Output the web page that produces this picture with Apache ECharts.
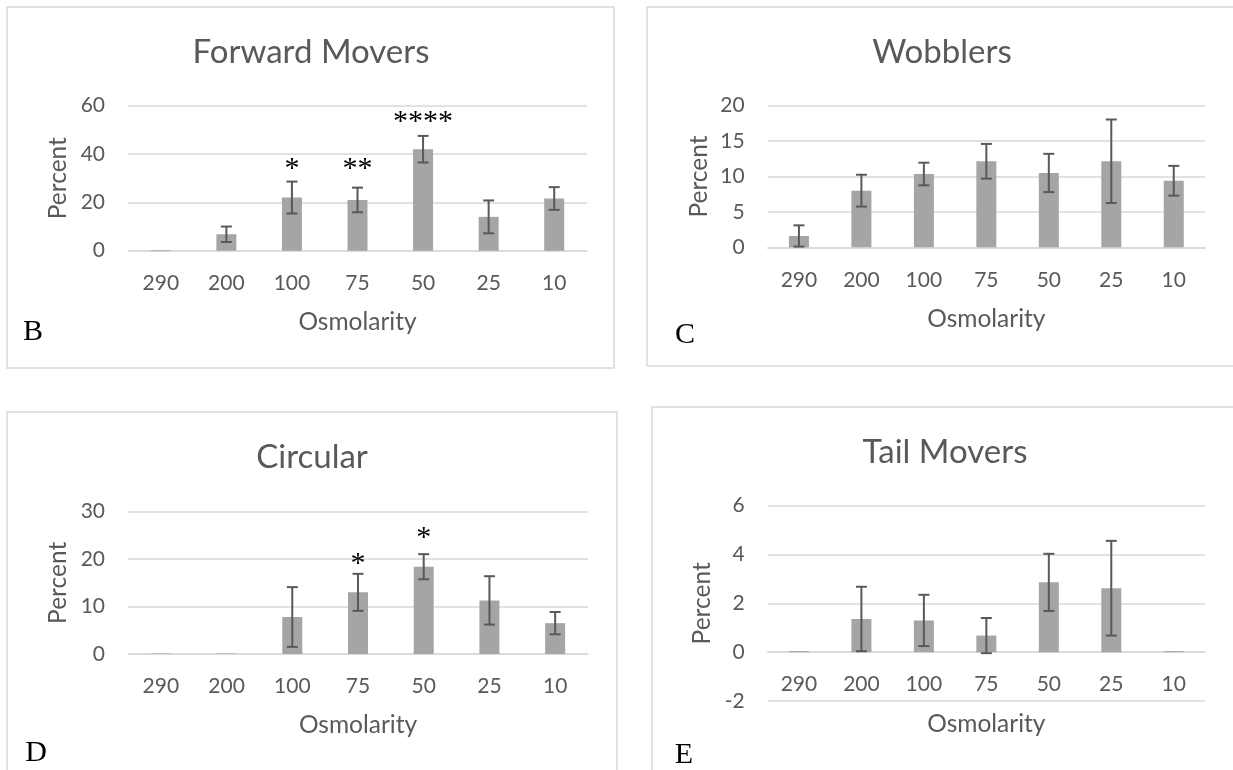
<!DOCTYPE html>
<html><head><meta charset="utf-8">
<script src="https://cdn.jsdelivr.net/npm/echarts@6/dist/echarts.min.js"></script>
<style>html,body{margin:0;padding:0;background:#fff}#c{width:1233px;height:770px}</style>
</head><body><div id="c"></div>
<script>
// ---------- data ----------
const categories = ['290', '200', '100', '75', '50', '25', '10'];

const forwardMean = [0.3, 6.8, 22.0, 21.0, 42.0, 14.0, 21.6];
const forwardErr  = [0, 3.2, 6.6, 5.1, 5.5, 6.8, 4.7];
const forwardSig  = ['', '', '*', '**', '****', '', ''];
const forwardSigAt = [null, null, 35.5, 35.5, 55, null, null];

const wobblerMean = [1.6, 8.0, 10.35, 12.15, 10.5, 12.15, 9.4];
const wobblerErr  = [1.5, 2.25, 1.6, 2.45, 2.7, 5.9, 2.1];

const circularMean = [0.1, 0.1, 7.8, 13.0, 18.4, 11.3, 6.5];
const circularErr  = [0, 0, 6.3, 3.9, 2.65, 5.1, 2.35];
const circularSig  = ['', '', '', '*', '*', '', ''];
const circularSigAt = [null, null, null, 19.8, 25.3, null, null];

const tailMean = [0.04, 1.36, 1.3, 0.68, 2.86, 2.62, 0.04];
const tailErr  = [0, 1.32, 1.05, 0.72, 1.17, 1.94, 0];

const forwardTicks  = [0, 20, 40, 60];
const wobblerTicks  = [0, 5, 10, 15, 20];
const circularTicks = [0, 10, 20, 30];
const tailTicks     = [-2, 0, 2, 4, 6];

const titles = ['Forward Movers', 'Wobblers', 'Circular', 'Tail Movers'];
const letters = ['B', 'C', 'D', 'E'];
const xName = 'Osmolarity';
const yName = 'Percent';

// ---------- layout (styles) ----------
const GRID = '#d9d9d9', TXT = '#595959', BAR = '#a5a5a5', ERR = '#595959';
const FONT = 'Lato, "Open Sans", sans-serif';
const SERIF = '"Liberation Serif", "DejaVu Serif", serif';

const panels = [
  {mean: forwardMean, err: forwardErr, sig: forwardSig, sigAt: forwardSigAt, ticks: forwardTicks,
   grid: {left: 128, top: 105.7, width: 459, height: 145}, yGap: 57,
   title: [311, 52], letter: [33, 332], box: [7, 7, 607, 361]},
  {mean: wobblerMean, err: wobblerErr, sig: null, sigAt: null, ticks: wobblerTicks,
   grid: {left: 767.7, top: 105.7, width: 437.3, height: 141.6}, yGap: 56,
   title: [942, 52], letter: [685, 335], box: [647, 7, 700, 359]},
  {mean: circularMean, err: circularErr, sig: circularSig, sigAt: circularSigAt, ticks: circularTicks,
   grid: {left: 128, top: 511.7, width: 460, height: 142.3}, yGap: 57,
   title: [312, 457], letter: [36, 753], box: [7, 412, 610, 400]},
  {mean: tailMean, err: tailErr, sig: null, sigAt: null, ticks: tailTicks,
   grid: {left: 767.7, top: 505.7, width: 437.3, height: 195.3}, yGap: 53,
   title: [945, 452], letter: [684, 755], box: [652, 407, 700, 400]}
];

function errRender(params, api) {
  const x = api.value(0), lo = api.value(1), hi = api.value(2);
  if (hi === lo) return null;
  const a = api.coord([x, hi]), b = api.coord([x, lo]);
  const w = 5.5;
  const st = {stroke: ERR, lineWidth: 2};
  return {type: 'group', children: [
    {type: 'line', shape: {x1: a[0], y1: a[1], x2: b[0], y2: b[1]}, style: st},
    {type: 'line', shape: {x1: a[0] - w, y1: a[1], x2: a[0] + w, y2: a[1]}, style: st},
    {type: 'line', shape: {x1: b[0] - w, y1: b[1], x2: b[0] + w, y2: b[1]}, style: st}
  ]};
}

function makeSigRender(sig) {
  return function (params, api) {
    const i = api.value(0), v = api.value(1);
    const p = api.coord([i, v]);
    return {type: 'text', x: p[0], y: p[1] + 4,
      style: {text: sig[i], fill: '#000', font: '30px ' + SERIF, align: 'center', verticalAlign: 'middle'}};
  };
}

const grid = [], xAxis = [], yAxis = [], series = [], graphic = [];
panels.forEach((p, k) => {
  const t = p.ticks;
  const lo = t[0], hi = t[t.length - 1];
  // place the category axis at value 0 (Excel style) by shifting it up from the grid bottom
  const zeroOffset = lo < 0 ? -(0 - lo) / (hi - lo) * p.grid.height : 0;
  grid.push(Object.assign({containLabel: false, outerBoundsMode: 'none'}, p.grid));
  xAxis.push({type: 'category', gridIndex: k, data: categories, position: 'bottom', offset: zeroOffset,
    axisLine: {onZero: false, lineStyle: {color: GRID, width: 1.5}},
    axisTick: {show: false},
    axisLabel: {color: TXT, fontSize: 21, fontFamily: FONT, margin: 22, interval: 0},
    name: xName, nameLocation: 'middle', nameGap: 59,
    nameTextStyle: {color: TXT, fontSize: 24.5, fontFamily: FONT}});
  yAxis.push({type: 'value', gridIndex: k, min: lo, max: hi, interval: t[1] - t[0],
    axisLine: {show: false}, axisTick: {show: false},
    splitLine: {lineStyle: {color: GRID, width: 1.5}},
    axisLabel: {color: TXT, fontSize: 21, fontFamily: FONT, margin: 23},
    name: yName, nameLocation: 'middle', nameGap: p.yGap,
    nameTextStyle: {color: TXT, fontSize: 24.5, fontFamily: FONT}});
  series.push({type: 'bar', xAxisIndex: k, yAxisIndex: k, data: p.mean, barWidth: 20,
    itemStyle: {color: BAR}, silent: true});
  series.push({type: 'custom', xAxisIndex: k, yAxisIndex: k, renderItem: errRender, silent: true,
    encode: {x: 0, y: [1, 2]},
    data: p.mean.map((m, i) => [i, m - p.err[i], m + p.err[i]]), z: 5});
  if (p.sig) {
    series.push({type: 'custom', xAxisIndex: k, yAxisIndex: k, renderItem: makeSigRender(p.sig), silent: true,
      encode: {x: 0, y: 1},
      data: p.sigAt.map((v, i) => [i, v]).filter(d => d[1] !== null), z: 6});
  }
  graphic.push({type: 'rect', shape: {x: p.box[0], y: p.box[1], width: p.box[2], height: p.box[3]},
    style: {fill: 'none', stroke: GRID, lineWidth: 1.5}, z: 0, silent: true});
  graphic.push({type: 'text', x: p.title[0], y: p.title[1],
    style: {text: titles[k], fill: TXT, font: '33px ' + FONT, align: 'center', verticalAlign: 'middle'}});
  graphic.push({type: 'text', x: p.letter[0], y: p.letter[1],
    style: {text: letters[k], fill: '#000', font: '30px ' + SERIF, align: 'center', verticalAlign: 'middle'}});
});

const chart = echarts.init(document.getElementById('c'), null, {renderer: 'canvas'});
chart.setOption({animation: false, backgroundColor: '#fff', grid, xAxis, yAxis, series, graphic});
</script>
</body></html>
